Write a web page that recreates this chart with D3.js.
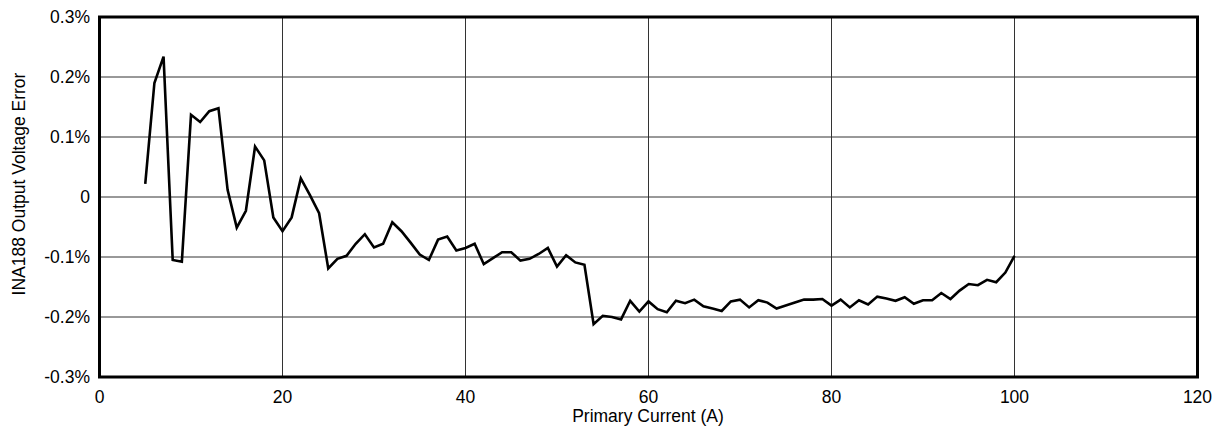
<!DOCTYPE html>
<html>
<head>
<meta charset="utf-8">
<script src="https://cdn.jsdelivr.net/npm/d3@7"></script>
<style>
  html, body { margin: 0; padding: 0; background: #fff; }
  svg { display: block; }
  text { font-family: "Liberation Sans", Arial, sans-serif; fill: #000; }
</style>
</head>
<body>
<svg id="chart" width="1224" height="431"></svg>
<script>
const currents = [5,6,7,8,9,10,11,12,13,14,15,16,17,18,19,20,21,22,23,24,25,26,27,28,29,30,31,32,33,34,35,36,37,38,39,40,41,42,43,44,45,46,47,48,49,50,51,52,53,54,55,56,57,58,59,60,61,62,63,64,65,66,67,68,69,70,71,72,73,74,75,76,77,78,79,80,81,82,83,84,85,86,87,88,89,90,91,92,93,94,95,96,97,98,99,100];
const errors = [0.022,0.190,0.234,-0.105,-0.108,0.137,0.125,0.143,0.148,0.012,-0.051,-0.023,0.084,0.061,-0.034,-0.057,-0.034,0.031,0.003,-0.027,-0.119,-0.103,-0.098,-0.078,-0.062,-0.084,-0.078,-0.042,-0.057,-0.076,-0.096,-0.105,-0.071,-0.066,-0.089,-0.085,-0.078,-0.112,-0.102,-0.092,-0.092,-0.106,-0.103,-0.095,-0.085,-0.116,-0.097,-0.109,-0.113,-0.212,-0.198,-0.200,-0.204,-0.173,-0.191,-0.174,-0.187,-0.192,-0.173,-0.177,-0.171,-0.182,-0.186,-0.190,-0.174,-0.171,-0.184,-0.172,-0.176,-0.186,-0.181,-0.176,-0.171,-0.171,-0.170,-0.181,-0.171,-0.184,-0.172,-0.179,-0.166,-0.169,-0.173,-0.167,-0.178,-0.172,-0.172,-0.160,-0.170,-0.156,-0.145,-0.147,-0.138,-0.142,-0.126,-0.098];
const xTicks = [0,20,40,60,80,100,120];
const yTicks = [-0.3,-0.2,-0.1,0,0.1,0.2,0.3];
const yTickLabels = ["-0.3%","-0.2%","-0.1%","0","0.1%","0.2%","0.3%"];
const xTitle = "Primary Current (A)";
const yTitle = "INA188 Output Voltage Error";

const svg = d3.select("#chart");
const L = 99.5, R = 1197.5, T = 17, B = 377;
const x = d3.scaleLinear().domain([0,120]).range([L,R]);
const y = d3.scaleLinear().domain([-0.3,0.3]).range([B,T]);
const fs = 17.5;

// grid
svg.append("g").selectAll("line").data(xTicks).join("line")
  .attr("x1", d => x(d)).attr("x2", d => x(d)).attr("y1", T).attr("y2", B)
  .attr("stroke", "#333").attr("stroke-width", 1);
svg.append("g").selectAll("line").data(yTicks).join("line")
  .attr("x1", L).attr("x2", R).attr("y1", d => y(d)).attr("y2", d => y(d))
  .attr("stroke", "#333").attr("stroke-width", 1);

// data line
svg.append("path")
  .datum(currents.map((c,i) => [c, errors[i]]))
  .attr("fill","none").attr("stroke","#000").attr("stroke-width",2.6)
  .attr("stroke-linejoin","miter").attr("stroke-miterlimit",4)
  .attr("d", d3.line().x(d => x(d[0])).y(d => y(d[1])));

// frame
svg.append("rect").attr("x", L).attr("y", T).attr("width", R-L).attr("height", B-T)
  .attr("fill","none").attr("stroke","#000").attr("stroke-width",3);

// y tick labels
svg.append("g").selectAll("text").data(yTicks).join("text")
  .attr("x", 90).attr("y", d => y(d)).attr("dy","0.35em")
  .attr("text-anchor","end").attr("font-size", fs)
  .text((d,i) => yTickLabels[i]);

// x tick labels
svg.append("g").selectAll("text").data(xTicks).join("text")
  .attr("x", d => x(d)).attr("y", 403)
  .attr("text-anchor","middle").attr("font-size", fs)
  .text(d => d3.format("d")(d));

// titles
svg.append("text").attr("x", 648).attr("y", 422).attr("text-anchor","middle")
  .attr("font-size", fs).text(xTitle);
svg.append("text").attr("transform","translate(25,184) rotate(-90)")
  .attr("text-anchor","middle").attr("font-size", fs).text(yTitle);
</script>
</body>
</html>
